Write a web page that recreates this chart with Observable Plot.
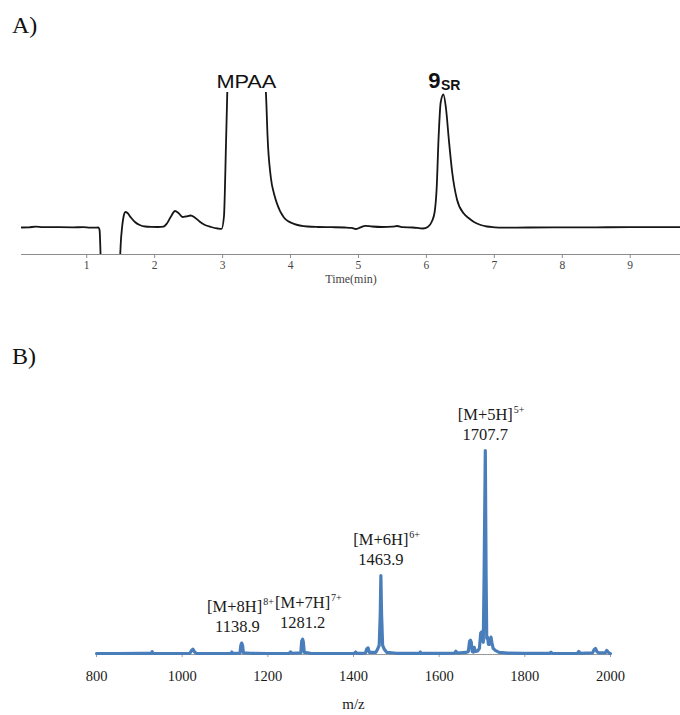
<!DOCTYPE html>
<html>
<head>
<meta charset="utf-8">
<script src="https://cdn.jsdelivr.net/npm/d3@7"></script>
<script src="https://cdn.jsdelivr.net/npm/@observablehq/plot@0.6"></script>
<style>
  body { margin: 0; background: #fff; }
  #wrap { position: relative; width: 680px; height: 715px; overflow: hidden; background: #fff; }
  .panel { position: absolute; font: 24px "Liberation Serif", "Times New Roman", serif; line-height: 24px; color: #111; }
  .plot { position: absolute; left: 0; }
  .plot svg { display: block; }
</style>
</head>
<body>
<div id="wrap">
  <div id="a-plot" class="plot" style="top:0px"></div>
  <div id="b-plot" class="plot" style="top:370px"></div>
  <div class="panel" style="left:12px;top:13px">A)</div>
  <div class="panel" style="left:12px;top:344px">B)</div>
</div>
<script>
// ---------- Panel A: HPLC chromatogram ----------
const timeMin = [0.04, 0.15, 0.25, 0.35, 0.6, 0.8, 0.95, 1.05, 1.12, 1.17, 1.19, 1.2, 1.22, 1.3, 1.4, 1.47, 1.49, 1.5, 1.52, 1.54, 1.57, 1.6, 1.65, 1.71, 1.78, 1.86, 1.95, 2.05, 2.13, 2.18, 2.24, 2.3, 2.35, 2.41, 2.46, 2.53, 2.59, 2.66, 2.74, 2.83, 2.93, 2.985, 3.02, 3.05, 3.07, 3.1, 3.2, 3.35, 3.5, 3.6, 3.62, 3.645, 3.66, 3.71, 3.76, 3.8, 3.9, 3.96, 4.05, 4.25, 4.4, 4.6, 4.8, 4.9, 4.96, 5.02, 5.1, 5.2, 5.35, 5.5, 5.57, 5.65, 5.8, 5.95, 6.02, 6.08, 6.12, 6.15, 6.18, 6.21, 6.25, 6.29, 6.33, 6.38, 6.45, 6.55, 6.63, 6.7, 6.8, 6.89, 7.0, 7.09, 7.5, 8.0, 8.5, 9.0, 9.4, 9.74];
const signal  = [27, 27.2, 27.8, 27.4, 27.3, 27.2, 27.3, 26.8, 26.9, 27, 24, 8, -40, -80, -80, -40, -5, 10, 27, 37, 42.5, 41.5, 37, 32.5, 29.5, 28, 27.6, 27.5, 27.8, 31, 38, 43.5, 41.5, 37.5, 38, 39, 37, 33, 29.5, 27.5, 26, 25.6, 38, 110, 165, 260, 480, 700, 560, 300, 200, 150, 121, 77, 60, 51, 37.3, 33.5, 30.7, 28, 27.5, 27.3, 27, 26.6, 25.5, 26.8, 28.7, 28, 27.5, 27.8, 28.5, 27.3, 27, 26, 27.5, 33, 42, 65, 118, 152, 160, 145, 115, 82, 55, 41, 36, 32.5, 29.5, 28, 27.2, 26.8, 27, 27.1, 27.2, 27.3, 27.3, 27.3];
const timeTicks = [1, 2, 3, 4, 5, 6, 7, 8, 9];
const timeAxisLabel = "Time(min)";
const peakNames = ["MPAA", "9"];
const peakTimes = [3.35, 6.25];
const peakSubscript = "SR";

// ---------- Panel B: ESI mass spectrum ----------
const mz = [800, 850, 900, 928, 930, 932, 980, 1018, 1022, 1025, 1029, 1033, 1080, 1114, 1116, 1118, 1135, 1137, 1138.9, 1141, 1143, 1160, 1200, 1250, 1253, 1256, 1277, 1279, 1281.2, 1283, 1285, 1300, 1350, 1402, 1405, 1408, 1428, 1431, 1434, 1437, 1452, 1456, 1460, 1462.5, 1463.9, 1465.5, 1468, 1472, 1478, 1500, 1554, 1556, 1558, 1600, 1636, 1639, 1642, 1662, 1668, 1671, 1673, 1675, 1677, 1680, 1682, 1684, 1690, 1694, 1697, 1699, 1701, 1703, 1705, 1707.7, 1709.5, 1711, 1713, 1715, 1718, 1721, 1723, 1726, 1731, 1740, 1760, 1800, 1858, 1861, 1864, 1900, 1923, 1926, 1929, 1958, 1962, 1965, 1968, 1972, 1988, 1991, 1994, 1998, 2000];
const intensity = [0.5, 0.5, 0.6, 0.6, 1.4, 0.6, 0.5, 0.6, 2.0, 2.6, 1.2, 0.6, 0.5, 0.6, 1.2, 0.6, 0.7, 4.5, 5.6, 4.5, 0.8, 0.6, 0.5, 0.6, 1.3, 0.6, 0.8, 6.5, 7.5, 6.0, 1.0, 0.6, 0.5, 0.6, 1.2, 0.6, 0.7, 2.8, 3.2, 1.0, 1.0, 2.5, 4.5, 20, 38.7, 20, 4.5, 2.5, 1.0, 0.6, 0.6, 1.2, 0.6, 0.6, 0.7, 1.6, 0.7, 1.0, 1.4, 6.5, 7.0, 6.0, 1.5, 1.2, 3.5, 1.5, 1.8, 3.0, 10.5, 11, 8, 6, 40, 100, 40, 8, 8.5, 5, 5, 8.5, 6, 3, 2, 1.0, 0.7, 0.6, 0.6, 1.1, 0.6, 0.5, 0.6, 1.5, 0.6, 0.8, 2.5, 3.0, 1.5, 0.8, 0.8, 2.0, 1.3, 0.5, 0.5];
const mzTicks = [800, 1000, 1200, 1400, 1600, 1800, 2000];
const mzAxisLabel = "m/z";
const ions = ["[M+8H]", "[M+7H]", "[M+6H]", "[M+5H]"];
const charges = ["8+", "7+", "6+", "5+"];
const ionMz = [1138.9, 1281.2, 1463.9, 1707.7];
const ionMzText = ["1138.9", "1281.2", "1463.9", "1707.7"];

// ---------- build panel A ----------
const hplc = timeMin.map((t, i) => ({t, v: signal[i]}));
const peakA = peakNames.map((name, i) => ({t: peakTimes[i], name}));
const sans = "'Liberation Sans', Arial, sans-serif";
const serif = "'Liberation Serif', 'Times New Roman', serif";

const plotA = Plot.plot({
  width: 680, height: 290,
  marginTop: 92, marginBottom: 36, marginLeft: 21, marginRight: 0,
  x: {domain: [0.04, 9.74]},
  y: {domain: [0, 162], axis: null},
  style: {background: "transparent", fontFamily: serif, overflow: "visible"},
  marks: [
    Plot.ruleY([0], {stroke: "#8c8c8c", strokeWidth: 1}),
    Plot.axisX(timeTicks, {tickSize: 4, tickPadding: 2, fontSize: 11.5, stroke: "#8c8c8c", fill: "#444", label: null, tickFormat: d => String(d)}),
    Plot.line(hplc, {x: "t", y: "v", stroke: "#161616", strokeWidth: 1.8, curve: "monotone-x", clip: true}),
    Plot.text([timeAxisLabel], {frameAnchor: "bottom", dy: 28, fontSize: 12, fill: "#444"}),
    Plot.text(peakA.filter(d => d.name === "MPAA"), {x: "t", frameAnchor: "top", text: "name", dy: -18, fontSize: 19, fontFamily: sans, fill: "#111"}),
    Plot.text(peakA.filter(d => d.name !== "MPAA"), {x: "t", frameAnchor: "top", text: "name", dy: -20, dx: -3, textAnchor: "end", fontSize: 22, fontWeight: "bold", fontFamily: sans, fill: "#111"}),
    Plot.text(peakA.filter(d => d.name !== "MPAA"), {x: "t", frameAnchor: "top", text: () => peakSubscript, dy: -12, dx: -2.5, textAnchor: "start", fontSize: 14, fontWeight: "bold", fontFamily: sans, fill: "#111"})
  ]
});
document.getElementById("a-plot").appendChild(plotA);
d3.select(plotA).selectAll("text").filter(function() { return this.textContent === "MPAA"; })
  .attr("textLength", 60).attr("lengthAdjust", "spacingAndGlyphs");

// ---------- build panel B ----------
const spectrum = mz.map((m, i) => ({m, r: intensity[i]}));
const peakHeight = m => d3.max(spectrum.filter(d => Math.abs(d.m - m) < 1), d => d.r);
const labelNudge = {"[M+8H]": -7};
const ionLabels = ions.map((ion, i) => ({
  m: ionMz[i], r: peakHeight(ionMz[i]), ion, z: charges[i], lab: ionMzText[i], nx: labelNudge[ion] || 0
}));

const labelMarks = [];
ionLabels.forEach(d => {
  labelMarks.push(Plot.text([d], {x: "m", y: "r", text: "lab", dy: -16, dx: d.nx * 0.6, fontSize: 16.5, fill: "#1a1a1a"}));
  labelMarks.push(Plot.text([d], {x: "m", y: "r", text: "ion", dy: -36, dx: d.nx, fontSize: 16.5, fill: "#1a1a1a"}));
  labelMarks.push(Plot.text([d], {x: "m", y: "r", text: "z", dy: -41, dx: d.nx + 28.5, textAnchor: "start", fontSize: 10, fill: "#1a1a1a"}));
});

const plotB = Plot.plot({
  width: 680, height: 345,
  marginTop: 80, marginBottom: 61, marginLeft: 96, marginRight: 70,
  x: {domain: [800, 2000]},
  y: {domain: [0, 100], axis: null},
  style: {background: "transparent", fontFamily: serif, overflow: "visible"},
  marks: [
    Plot.ruleY([0], {stroke: "#9a9a9a", strokeWidth: 1}),
    Plot.axisX(mzTicks, {tickSize: 3, tickPadding: 13.5, fontSize: 14.5, stroke: "#9a9a9a", fill: "#1a1a1a", label: null, tickFormat: d => String(d)}),
    Plot.line(spectrum, {x: "m", y: "r", stroke: "#4a7ebb", strokeWidth: 3.2, strokeLinejoin: "round", strokeLinecap: "round"}),
    ...labelMarks,
    Plot.text([mzAxisLabel], {frameAnchor: "bottom", dy: 54, fontSize: 15, fill: "#1a1a1a"})
  ]
});
document.getElementById("b-plot").appendChild(plotB);
</script>
</body>
</html>
